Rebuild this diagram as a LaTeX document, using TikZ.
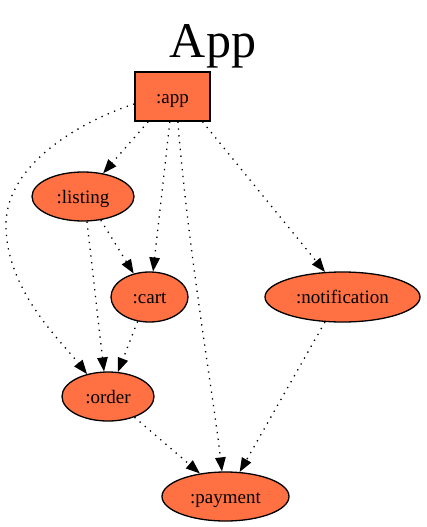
\documentclass[tikz,border=0pt]{standalone}
\usepackage{fontspec}
\setmainfont{Liberation Serif}
\usetikzlibrary{shapes.geometric,arrows.meta}
\definecolor{nodefill}{HTML}{FF7043}
\tikzset{
  gnode/.style={draw=black, line width=1.3pt, fill=nodefill, inner sep=0pt,
    font=\fontsize{19}{19}\selectfont, text height=17pt, text depth=4pt},
  ellnode/.style={gnode, ellipse},
  boxnode/.style={gnode, rectangle},
  edge/.style={line width=1.3pt, dash pattern=on 1.3pt off 5.5pt,
    -{Triangle[length=14pt,width=10.5pt,sep=0pt]}},
}
\begin{document}
\begin{tikzpicture}[x=1pt,y=-1pt]
\useasboundingbox (0,0) rectangle (426,527);
\node[font=\fontsize{50}{50}\selectfont, anchor=base] (title) at (213,58) {App};
\node[boxnode, minimum width=75pt, minimum height=49pt] (app) at (172.5,96.5) {:app};
\node[ellnode, minimum width=102pt, minimum height=49pt] (listing) at (83,196.5) {:listing};
\node[ellnode, minimum width=77pt, minimum height=50pt] (cart) at (149.5,297) {:cart};
\node[ellnode, minimum width=155pt, minimum height=50pt] (notification) at (342.5,297) {:notification};
\node[ellnode, minimum width=92pt, minimum height=49pt] (order) at (108,396.5) {:order};
\node[ellnode, minimum width=127pt, minimum height=49pt] (payment) at (225.5,496.5) {:payment};
\coordinate (bendleft) at (6,225);

\draw[edge] (app.226) -- (listing.49);
\draw[edge] (app.264) -- (cart.82);
\draw[edge] (app.282) .. controls (188,250) and (214,400) .. (payment.98);
\draw[edge] (app.320) -- (notification.125);
\draw[edge] (app.191) .. controls (90,118) and (6,160) .. (bendleft)
  .. controls (6,290) and (60,340) .. (order.133);
\draw[edge] (listing.307) -- (cart.124);
\draw[edge] (listing.279) -- (order.99);
\draw[edge] (cart.244) -- (order.68);
\draw[edge] (order.322) -- (payment.138);
\draw[edge] (notification.235) -- (payment.60);
\end{tikzpicture}
\end{document}
